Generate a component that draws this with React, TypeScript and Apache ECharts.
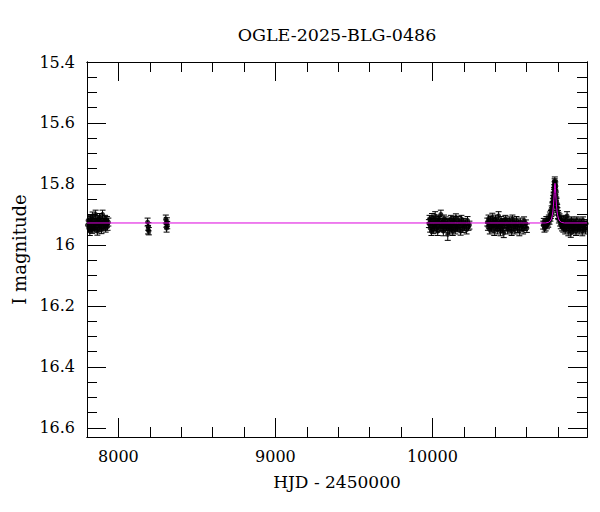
import React, { useEffect, useRef } from 'react';
import * as echarts from 'echarts';

type Obs = [number, number, number]; // HJD-2450000, I mag, error

const season2017: Obs[] = [
  [7803, 15.935, 0.012], [7807, 15.92, 0.013], [7811, 15.945, 0.012], [7814, 15.93, 0.012],
  [7818, 15.955, 0.014], [7822, 15.915, 0.012], [7825, 15.94, 0.012], [7829, 15.925, 0.013],
  [7833, 15.95, 0.012], [7836, 15.905, 0.013], [7840, 15.935, 0.012], [7844, 15.92, 0.012],
  [7847, 15.945, 0.013], [7851, 15.93, 0.012], [7855, 15.9, 0.014], [7858, 15.94, 0.012],
  [7862, 15.925, 0.012], [7866, 15.955, 0.013], [7869, 15.915, 0.012], [7873, 15.93, 0.012],
  [7877, 15.945, 0.012], [7880, 15.91, 0.013], [7884, 15.935, 0.012], [7888, 15.92, 0.012],
  [7892, 15.95, 0.013], [7895, 15.93, 0.012], [7899, 15.9, 0.014], [7903, 15.94, 0.012],
  [7907, 15.925, 0.012], [7911, 15.935, 0.013], [7915, 15.915, 0.012], [7919, 15.945, 0.013],
  [7923, 15.93, 0.012], [7927, 15.92, 0.013], [7931, 15.94, 0.012], [7936, 15.925, 0.013],
];

const season2018a: Obs[] = [
  [8186, 15.925, 0.013], [8189, 15.95, 0.014], [8191, 15.94, 0.013], [8194, 15.955, 0.012],
];

const season2018b: Obs[] = [
  [8302, 15.915, 0.013], [8305, 15.93, 0.012], [8307, 15.945, 0.013], [8309, 15.925, 0.014],
  [8311, 15.935, 0.012],
];

const season2023: Obs[] = [
  [9978, 15.93, 0.013], [9982, 15.915, 0.012], [9986, 15.945, 0.013], [9990, 15.925, 0.012],
  [9994, 15.955, 0.014], [9998, 15.91, 0.013], [10002, 15.935, 0.012], [10006, 15.95, 0.013],
  [10010, 15.92, 0.012], [10014, 15.94, 0.013], [10018, 15.905, 0.014], [10022, 15.93, 0.012],
  [10026, 15.945, 0.013], [10030, 15.925, 0.012], [10034, 15.955, 0.014], [10038, 15.915, 0.013],
  [10042, 15.935, 0.012], [10046, 15.92, 0.013], [10050, 15.945, 0.012], [10054, 15.9, 0.014],
  [10058, 15.93, 0.012], [10062, 15.94, 0.013], [10066, 15.925, 0.012], [10070, 15.955, 0.015],
  [10074, 15.915, 0.013], [10078, 15.935, 0.012], [10082, 15.945, 0.013], [10086, 15.92, 0.012],
  [10090, 15.94, 0.013], [10094, 15.93, 0.013], [10098, 15.965, 0.02], [10102, 15.94, 0.013],
  [10106, 15.925, 0.012], [10110, 15.95, 0.014], [10114, 15.935, 0.013], [10118, 15.915, 0.012],
  [10122, 15.945, 0.013], [10126, 15.93, 0.012], [10130, 15.955, 0.014], [10134, 15.92, 0.013],
  [10138, 15.94, 0.012], [10142, 15.925, 0.013], [10146, 15.95, 0.014], [10150, 15.91, 0.012],
  [10155, 15.935, 0.013], [10160, 15.945, 0.012], [10165, 15.92, 0.013], [10170, 15.94, 0.014],
  [10175, 15.93, 0.012], [10180, 15.955, 0.013], [10185, 15.915, 0.012], [10190, 15.935, 0.013],
  [10195, 15.945, 0.014], [10200, 15.925, 0.012], [10206, 15.94, 0.013], [10212, 15.93, 0.012],
  [10218, 15.95, 0.014], [10224, 15.92, 0.013], [10230, 15.94, 0.012], [10236, 15.935, 0.013],
];

const season2024: Obs[] = [
  [10350, 15.925, 0.013], [10354, 15.94, 0.012], [10358, 15.915, 0.013], [10362, 15.935, 0.012],
  [10366, 15.95, 0.014], [10370, 15.92, 0.013], [10374, 15.93, 0.012], [10378, 15.945, 0.013],
  [10382, 15.91, 0.014], [10386, 15.935, 0.012], [10390, 15.925, 0.013], [10394, 15.955, 0.014],
  [10398, 15.93, 0.012], [10402, 15.915, 0.013], [10406, 15.94, 0.012], [10410, 15.925, 0.013],
  [10414, 15.95, 0.014], [10418, 15.935, 0.012], [10422, 15.905, 0.014], [10426, 15.94, 0.013],
  [10430, 15.93, 0.012], [10434, 15.955, 0.015], [10438, 15.92, 0.013], [10442, 15.935, 0.012],
  [10446, 15.945, 0.013], [10450, 15.925, 0.012], [10455, 15.96, 0.016], [10460, 15.93, 0.013],
  [10465, 15.915, 0.012], [10470, 15.94, 0.013], [10475, 15.925, 0.012], [10480, 15.95, 0.014],
  [10485, 15.935, 0.013], [10490, 15.92, 0.012], [10495, 15.945, 0.013], [10500, 15.93, 0.012],
  [10505, 15.955, 0.014], [10510, 15.915, 0.013], [10515, 15.94, 0.012], [10520, 15.925, 0.013],
  [10525, 15.95, 0.014], [10530, 15.935, 0.012], [10536, 15.92, 0.013], [10542, 15.945, 0.014],
  [10548, 15.93, 0.012], [10554, 15.955, 0.015], [10560, 15.925, 0.013], [10566, 15.94, 0.012],
  [10572, 15.935, 0.013], [10578, 15.95, 0.014], [10584, 15.92, 0.012], [10590, 15.94, 0.013],
  [10596, 15.93, 0.012], [10602, 15.945, 0.014],
];

const season2025: Obs[] = [
  [10706, 15.935, 0.013], [10710, 15.925, 0.012], [10714, 15.945, 0.013], [10718, 15.93, 0.012],
  [10722, 15.94, 0.014], [10726, 15.92, 0.013], [10730, 15.935, 0.012], [10734, 15.925, 0.013],
  [10738, 15.93, 0.012], [10742, 15.915, 0.013], [10746, 15.92, 0.012], [10749, 15.905, 0.013],
  [10752, 15.91, 0.012], [10755, 15.9, 0.013], [10758, 15.895, 0.012], [10760, 15.885, 0.013],
  [10762, 15.89, 0.012], [10764, 15.875, 0.013], [10766, 15.87, 0.012], [10768, 15.86, 0.013],
  [10770, 15.85, 0.012], [10772, 15.84, 0.013], [10773, 15.845, 0.012], [10775, 15.825, 0.013],
  [10776, 15.83, 0.012], [10777, 15.815, 0.013], [10778, 15.805, 0.012], [10779, 15.795, 0.012],
  [10780, 15.79, 0.013], [10781, 15.8, 0.012], [10782, 15.81, 0.013], [10783, 15.805, 0.012],
  [10784, 15.82, 0.013], [10786, 15.835, 0.012], [10787, 15.84, 0.013], [10789, 15.855, 0.012],
  [10791, 15.86, 0.013], [10793, 15.875, 0.012], [10795, 15.88, 0.013], [10797, 15.89, 0.012],
  [10800, 15.9, 0.013], [10803, 15.905, 0.012], [10806, 15.915, 0.013], [10810, 15.91, 0.012],
  [10814, 15.925, 0.013], [10818, 15.935, 0.012], [10822, 15.92, 0.013], [10826, 15.94, 0.014],
  [10830, 15.93, 0.012], [10834, 15.945, 0.013], [10838, 15.915, 0.012], [10842, 15.935, 0.013],
  [10846, 15.95, 0.014], [10850, 15.92, 0.012], [10854, 15.94, 0.013], [10858, 15.905, 0.014],
  [10862, 15.935, 0.012], [10866, 15.955, 0.015], [10870, 15.925, 0.013], [10874, 15.94, 0.012],
  [10878, 15.93, 0.013], [10882, 15.96, 0.015], [10886, 15.92, 0.012], [10890, 15.945, 0.013],
  [10894, 15.935, 0.012], [10898, 15.95, 0.014], [10902, 15.925, 0.013], [10906, 15.94, 0.012],
  [10910, 15.93, 0.013], [10915, 15.955, 0.014], [10920, 15.92, 0.012], [10925, 15.945, 0.013],
  [10930, 15.935, 0.012], [10935, 15.95, 0.014], [10940, 15.925, 0.013], [10945, 15.94, 0.012],
  [10950, 15.93, 0.013], [10955, 15.955, 0.015], [10960, 15.92, 0.012], [10965, 15.945, 0.013],
  [10970, 15.935, 0.012], [10975, 15.95, 0.014], [10980, 15.93, 0.013],
];

const modelCurve: [number, number][] = [
  [7800, 15.928], [10720, 15.928], [10740, 15.926], [10750, 15.922], [10758, 15.915],
  [10764, 15.903], [10768, 15.889], [10771, 15.872], [10774, 15.85], [10776, 15.832],
  [10778, 15.814], [10779.5, 15.803], [10781, 15.798], [10782.5, 15.803], [10784, 15.814],
  [10786, 15.832], [10788, 15.85], [10791, 15.872], [10794, 15.889], [10798, 15.903],
  [10804, 15.915], [10812, 15.922], [10822, 15.926], [10842, 15.928], [10985, 15.928],
];

const xMajorTicks = [8000, 9000, 10000];
const xRange = [7800, 10985];
const yRange = [15.4, 16.63];

const TITLE = 'OGLE-2025-BLG-0486';
const X_NAME = 'HJD - 2450000';
const Y_NAME = 'I magnitude';

export default function App() {
  const ref = useRef<HTMLDivElement>(null);

  useEffect(() => {
    const chart = echarts.init(ref.current as HTMLDivElement, null, { renderer: 'svg' });
    const obs: Obs[] = [
      ...season2017, ...season2018a, ...season2018b, ...season2023, ...season2024, ...season2025,
    ];
    const font = 'DejaVu Serif';
    const black = '#000';
    const axisLine = { show: true, onZero: false, lineStyle: { color: black, width: 1 } };
    const tickStyle = { color: black, width: 1 };

    const baseX = {
      type: 'value',
      min: xRange[0],
      max: xRange[1],
      axisLine,
      splitLine: { show: false },
    };
    const baseY = {
      type: 'value',
      min: yRange[0],
      max: yRange[1],
      inverse: true,
      axisLine,
      splitLine: { show: false },
    };

    const option: any = {
      animation: false,
      backgroundColor: '#fff',
      title: {
        text: TITLE,
        left: 332,
        top: 21,
        textAlign: 'center',
        textStyle: { fontFamily: font, fontSize: 17.5, fontWeight: 'normal', color: black },
      },
      grid: {
        left: 87, right: 13, top: 62, bottom: 75,
        containLabel: false,
        outerBoundsMode: 'none',
      },
      xAxis: [
        {
          ...baseX, position: 'bottom', interval: 200,
          axisTick: { show: true, inside: true, length: 10, lineStyle: tickStyle },
          axisLabel: { show: false },
        },
        {
          ...baseX, position: 'top', interval: 200,
          axisTick: { show: true, inside: true, length: 10, lineStyle: tickStyle },
          axisLabel: { show: false },
        },
        {
          ...baseX, position: 'bottom',
          axisTick: { show: true, inside: true, length: 19, customValues: xMajorTicks, lineStyle: tickStyle },
          axisLabel: {
            show: true, customValues: xMajorTicks, margin: 11,
            fontFamily: font, fontSize: 16, color: black,
            formatter: (v: number) => String(Math.round(v)),
          },
          name: X_NAME, nameLocation: 'middle', nameGap: 36,
          nameTextStyle: { fontFamily: font, fontSize: 17, color: black },
        },
        {
          ...baseX, position: 'top',
          axisTick: { show: true, inside: true, length: 19, customValues: xMajorTicks, lineStyle: tickStyle },
          axisLabel: { show: false },
        },
      ],
      yAxis: [
        {
          ...baseY, position: 'left', interval: 0.05,
          axisTick: { show: true, inside: true, length: 10, lineStyle: tickStyle },
          axisLabel: { show: false },
        },
        {
          ...baseY, position: 'right', interval: 0.05,
          axisTick: { show: true, inside: true, length: 10, lineStyle: tickStyle },
          axisLabel: { show: false },
        },
        {
          ...baseY, position: 'left', interval: 0.2,
          axisTick: { show: true, inside: true, length: 19, lineStyle: tickStyle },
          axisLabel: {
            show: true, margin: 12, fontFamily: font, fontSize: 16, color: black,
            showMaxLabel: false,
            formatter: (v: number) => {
              if (Math.abs(v * 5 - Math.round(v * 5)) > 1e-6) return '';
              return String(Number(v.toFixed(1)));
            },
          },
          name: Y_NAME, nameLocation: 'middle', nameGap: 52,
          nameTextStyle: { fontFamily: font, fontSize: 18, color: black },
        },
        {
          ...baseY, position: 'right', interval: 0.2,
          axisTick: { show: true, inside: true, length: 19, lineStyle: tickStyle },
          axisLabel: { show: false },
        },
      ],
      series: [
        {
          type: 'custom',
          xAxisIndex: 0,
          yAxisIndex: 0,
          clip: true,
          z: 2,
          encode: { x: 0, y: 1 },
          data: obs,
          renderItem: (_params: any, api: any) => {
            const t = api.value(0);
            const m = api.value(1);
            const e = api.value(2);
            const top = api.coord([t, m - e]);
            const bot = api.coord([t, m + e]);
            const hw = 3;
            const style = { stroke: black, lineWidth: 1 };
            return {
              type: 'group',
              children: [
                { type: 'line', shape: { x1: top[0], y1: top[1], x2: bot[0], y2: bot[1] }, style },
                { type: 'line', shape: { x1: top[0] - hw, y1: top[1], x2: top[0] + hw, y2: top[1] }, style },
                { type: 'line', shape: { x1: bot[0] - hw, y1: bot[1], x2: bot[0] + hw, y2: bot[1] }, style },
              ],
            };
          },
        },
        {
          type: 'scatter',
          xAxisIndex: 0,
          yAxisIndex: 0,
          z: 3,
          symbol: 'circle',
          symbolSize: 5,
          itemStyle: { color: black },
          data: obs.map((o) => [o[0], o[1]]),
        },
        {
          type: 'line',
          xAxisIndex: 0,
          yAxisIndex: 0,
          z: 4,
          showSymbol: false,
          symbol: 'none',
          lineStyle: { color: '#dd00dd', width: 1 },
          data: modelCurve,
        },
      ],
    };

    chart.setOption(option);
    return () => chart.dispose();
  }, []);

  return (
    <div
      ref={ref}
      style={{ position: 'fixed', left: 0, top: 0, width: 600, height: 512, background: '#fff' }}
    />
  );
}
